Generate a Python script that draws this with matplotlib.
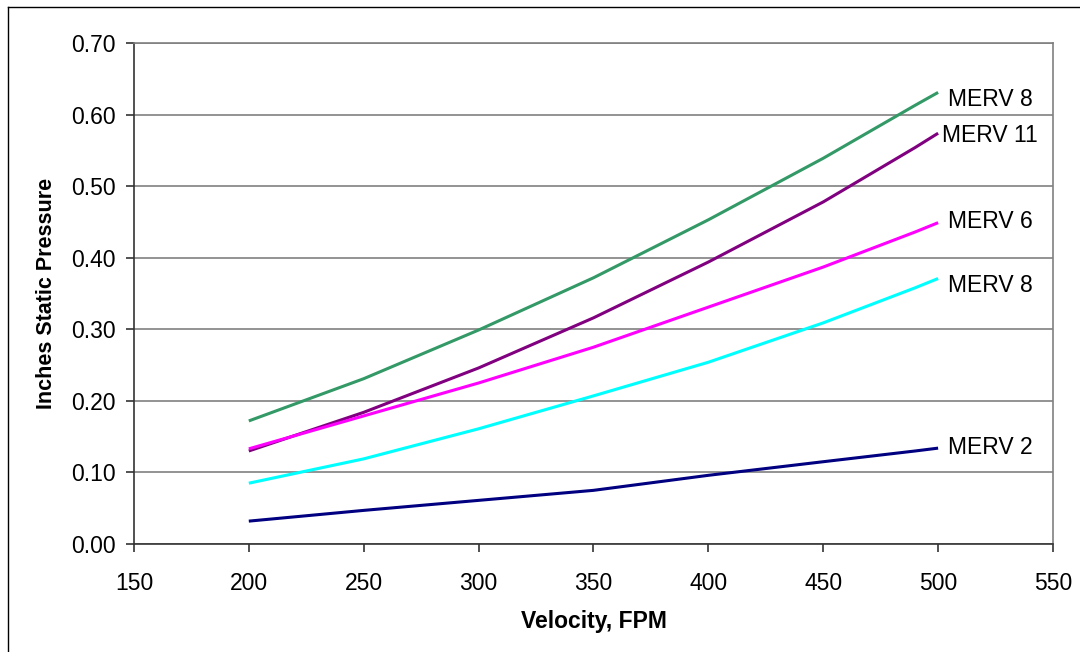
import matplotlib
matplotlib.use("Agg")
import matplotlib.pyplot as plt
from matplotlib.lines import Line2D

plt.rcParams["font.family"] = ["Liberation Sans", "DejaVu Sans"]

# velocity (FPM) and static pressure per filter
velocity = [200, 250, 300, 350, 400, 450, 490, 500]
merv8_pleat = [0.172, 0.231, 0.299, 0.372, 0.453, 0.539, 0.613, 0.631]
merv11 = [0.130, 0.184, 0.246, 0.316, 0.394, 0.478, 0.554, 0.574]
merv6 = [0.133, 0.179, 0.225, 0.275, 0.331, 0.387, 0.436, 0.449]
merv8 = [0.085, 0.119, 0.161, 0.207, 0.254, 0.309, 0.358, 0.371]
merv2 = [0.032, 0.047, 0.061, 0.075, 0.096, 0.115, 0.130, 0.134]

series = [
    ("MERV 8", merv8_pleat, "#339966", (7, -3)),
    ("MERV 11", merv11, "#800080", (3, 0)),
    ("MERV 6", merv6, "#FF00FF", (7, 3)),
    ("MERV 8", merv8, "#00FFFF", (7, -3)),
    ("MERV 2", merv2, "#000080", (7, 2)),
]

fig = plt.figure(figsize=(10.8, 6.52), dpi=100)
ax = fig.add_axes([0.124, 0.1656, 0.851, 0.7684])

for label, vals, color, off in series:
    ax.plot(velocity, vals, color=color, linewidth=2.2, solid_capstyle="butt", zorder=3)
    ax.annotate(label, xy=(velocity[-1], vals[-1]), xytext=off,
                textcoords="offset points", ha="left", va="center_baseline",
                fontsize=16.5, clip_on=False)

ax.set_xlim(150, 550)
ax.set_ylim(0, 0.70)
ax.set_xticks(range(150, 551, 50))
ax.set_yticks([i / 10 for i in range(8)])
ax.set_yticklabels([f"{i / 10:.2f}" for i in range(8)])
ax.yaxis.grid(True, color="#808080", linewidth=1.2)
ax.set_axisbelow(True)

for side in ("top", "right"):
    ax.spines[side].set_color("#808080")
    ax.spines[side].set_linewidth(1.2)
for side in ("left", "bottom"):
    ax.spines[side].set_color("#333333")
    ax.spines[side].set_linewidth(1.2)

ax.tick_params(axis="both", direction="out", length=6, width=1.2,
               color="#333333", labelsize=16.5)
ax.tick_params(axis="x", pad=14)
ax.tick_params(axis="y", pad=7)

ax.set_xlabel("Velocity, FPM", fontsize=16.5, fontweight="bold", labelpad=11)
ax.set_ylabel("Inches Static Pressure", fontsize=15.5, fontweight="bold", labelpad=10)

# outer chart border (only left and top edges are visible)
fig.add_artist(Line2D([8 / 1080, 8 / 1080], [0, 1 - 7 / 652], color="black", linewidth=1.0))
fig.add_artist(Line2D([8 / 1080, 1], [1 - 7 / 652, 1 - 7 / 652], color="black", linewidth=1.0))

fig.savefig("out.png", dpi=100, facecolor="white")
